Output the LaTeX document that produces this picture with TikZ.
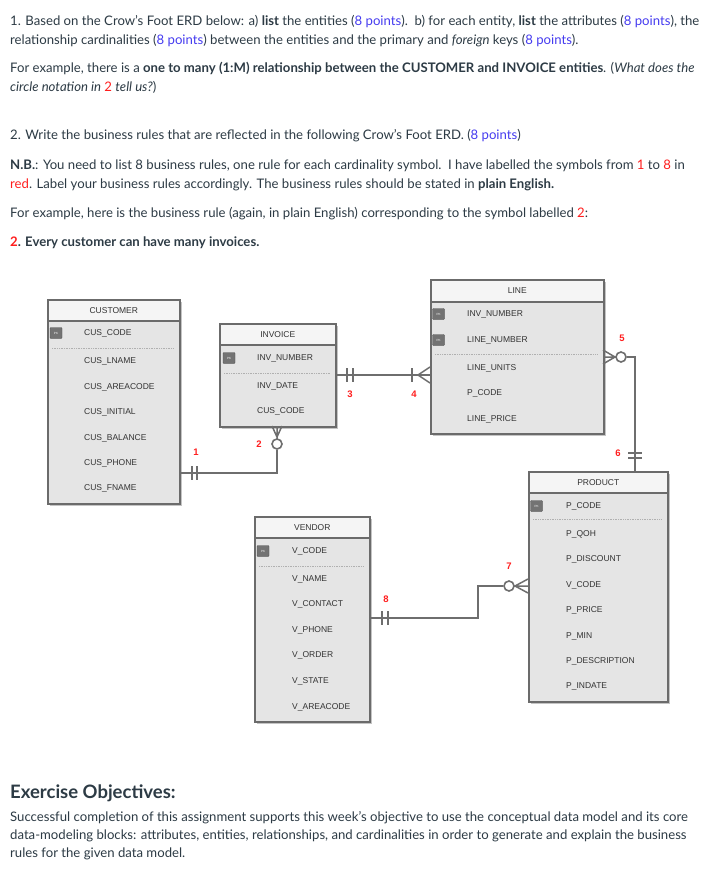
\documentclass[tikz,border=0pt]{standalone}
\usepackage{fontspec}
\setmainfont{Lato}
\newfontfamily\erdfont{Liberation Sans}
\definecolor{txt}{HTML}{2D3B45}
\definecolor{blu}{RGB}{70,60,240}
\definecolor{rd}{RGB}{255,30,30}
\definecolor{boxline}{HTML}{6B6B6B}
\definecolor{bodyfill}{HTML}{E5E5E5}
\definecolor{headfill}{HTML}{F5F5F5}
\definecolor{erdtext}{HTML}{333333}
\definecolor{connc}{HTML}{6E6E6E}
\definecolor{shadc}{HTML}{C4C4C4}
\definecolor{sepc}{HTML}{B0B0B0}
\newcommand\bl[1]{\textcolor{blu}{#1}}
\newcommand\rdt[1]{\textcolor{rd}{#1}}
\begin{document}
\begin{tikzpicture}[x=1pt,y=-1pt,
  para/.style={anchor=base west, inner sep=0, font=\fontsize{13.15}{16}\selectfont, text=txt},
  bodybox/.style={draw=boxline, line width=1.6, fill=bodyfill, anchor=north west, inner sep=0},
  headbox/.style={draw=boxline, line width=1.6, fill=headfill, anchor=north west, inner sep=0, minimum height=21, font=\erdfont\fontsize{8.5}{10}\selectfont, text=erdtext},
  attr/.style={anchor=west, inner sep=0, font=\erdfont\fontsize{8.5}{10}\selectfont, text=erdtext},
  pk/.style={draw=black!70, fill=black!55, minimum width=12, minimum height=11, inner sep=0, rounded corners=0.8, font=\erdfont\fontsize{3}{3}\selectfont, text=white},
  num/.style={text=rd, font=\erdfont\bfseries\fontsize{9.5}{10}\selectfont, inner sep=0},
  conn/.style={draw=connc, line width=1.8},
  sym/.style={draw=connc, line width=1.5},
  circ/.style={circle, draw=connc, line width=1.6, fill=white, minimum size=10, inner sep=0},
  sep/.style={draw=sepc, densely dotted, line width=0.7},
  shad/.style={fill=shadc}
]
\useasboundingbox (0,0) rectangle (705,869);
\fill[white] (0,0) rectangle (705,869);

% ---------- text ----------
\node[para] (t1) at (10,25.5) {1. Based on the Crow's Foot ERD below: a) \textbf{list} the entities (\bl{8 points}).\ \ b) for each entity, \textbf{list} the attributes (\bl{8 points}), the};
\node[para] (t2) at (10,44.5) {relationship cardinalities (\bl{8 points}) between the entities and the primary and \textit{foreign} keys (\bl{8 points}).};
\node[para] (t3) at (10,73) {For example, there is a \textbf{one to many (1:M) relationship between the CUSTOMER and INVOICE entities}. (\textit{What does the}};
\node[para] (t4) at (10,92) {\textit{circle notation in} \rdt{2} \textit{tell us?})};
\node[para] (t5) at (10,140) {2. Write the business rules that are reflected in the following Crow's Foot ERD. (\bl{8 points})};
\node[para] (t6) at (10,169) {\textbf{N.B.}: You need to list 8 business rules, one rule for each cardinality symbol.\ \ I have labelled the symbols from \rdt{1} to \rdt{8} in};
\node[para] (t7) at (10,188) {\rdt{red}. Label your business rules accordingly. The business rules should be stated in \textbf{plain English.}};
\node[para] (t8) at (10,217) {For example, here is the business rule (again, in plain English) corresponding to the symbol labelled \rdt{2}:};
\node[para] (t9) at (10,246) {\textbf{\rdt{2}. Every customer can have many invoices.}};
\node[para, font=\fontsize{18.5}{22}\selectfont\bfseries] (h1) at (10,798) {Exercise Objectives:};
\node[para] (b1) at (10,821) {Successful completion of this assignment supports this week's objective to use the conceptual data model and its core};
\node[para] (b2) at (10,839) {data-modeling blocks: attributes, entities, relationships, and cardinalities in order to generate and explain the business};
\node[para] (b3) at (10,857) {rules for the given data model.};

% ---------- shadows ----------
\fill[shad] (49.5,301.5) rectangle (181.5,505.5);
\fill[shad] (221.5,325.5) rectangle (337.5,428.5);
\fill[shad] (432.5,281.5) rectangle (605.5,435.5);
\fill[shad] (530.5,473.5) rectangle (669.5,703.5);
\fill[shad] (256.5,518.5) rectangle (371.5,723.5);

% ---------- CUSTOMER ----------
\node[bodybox, minimum width=132, minimum height=204] (cust) at (47,299) {};
\node[headbox, minimum width=132] (custh) at (47,299) {CUSTOMER};
\node[pk] (custpk) at (56,333) {PK};
\draw[sep] (52,348) -- (174,348);
\node[attr] (c1) at (84,333) {CUS\_CODE};
\node[attr] (c2) at (84,361) {CUS\_LNAME};
\node[attr] (c3) at (84,387) {CUS\_AREACODE};
\node[attr] (c4) at (84,412) {CUS\_INITIAL};
\node[attr] (c5) at (84,438) {CUS\_BALANCE};
\node[attr] (c6) at (84,463) {CUS\_PHONE};
\node[attr] (c7) at (84,488) {CUS\_FNAME};

% ---------- INVOICE ----------
\node[bodybox, minimum width=116, minimum height=103] (inv) at (219,323) {};
\node[headbox, minimum width=116] (invh) at (219,323) {INVOICE};
\node[pk] (invpk) at (229,358) {PK};
\draw[sep] (224,373) -- (330,373);
\node[attr] (i1) at (257,358) {INV\_NUMBER};
\node[attr] (i2) at (257,386) {INV\_DATE};
\node[attr] (i3) at (257,411) {CUS\_CODE};

% ---------- LINE ----------
\node[bodybox, minimum width=173, minimum height=154] (line) at (430,279) {};
\node[headbox, minimum width=173, minimum height=22] (lineh) at (430,279) {LINE};
\node[pk] (linepk1) at (438.5,314) {PK};
\node[pk] (linepk2) at (438.5,340) {PK};
\draw[sep] (435,354) -- (598,354);
\node[attr] (l1) at (467,314) {INV\_NUMBER};
\node[attr] (l2) at (467,340) {LINE\_NUMBER};
\node[attr] (l3) at (467,368) {LINE\_UNITS};
\node[attr] (l4) at (467,393) {P\_CODE};
\node[attr] (l5) at (467,419) {LINE\_PRICE};

% ---------- PRODUCT ----------
\node[bodybox, minimum width=139, minimum height=230] (prod) at (528,471) {};
\node[headbox, minimum width=139] (prodh) at (528,471) {PRODUCT};
\node[pk] (prodpk) at (536.5,506) {PK};
\draw[sep] (533,519) -- (662,519);
\node[attr] (p1) at (566,506) {P\_CODE};
\node[attr] (p2) at (566,534) {P\_QOH};
\node[attr] (p3) at (566,559) {P\_DISCOUNT};
\node[attr] (p4) at (566,585) {V\_CODE};
\node[attr] (p5) at (566,610) {P\_PRICE};
\node[attr] (p6) at (566,636) {P\_MIN};
\node[attr] (p7) at (566,661) {P\_DESCRIPTION};
\node[attr] (p8) at (566,686) {P\_INDATE};

% ---------- VENDOR ----------
\node[bodybox, minimum width=115, minimum height=205] (vend) at (254,516) {};
\node[headbox, minimum width=115] (vendh) at (254,516) {VENDOR};
\node[pk] (vendpk) at (263,551) {PK};
\draw[sep] (259,566) -- (364,566);
\node[attr] (v1) at (292,551) {V\_CODE};
\node[attr] (v2) at (292,579) {V\_NAME};
\node[attr] (v3) at (292,604) {V\_CONTACT};
\node[attr] (v4) at (292,630) {V\_PHONE};
\node[attr] (v5) at (292,655) {V\_ORDER};
\node[attr] (v6) at (292,681) {V\_STATE};
\node[attr] (v7) at (292,707) {V\_AREACODE};

% ---------- relationship CUSTOMER - INVOICE (1,2) ----------
\coordinate (k12) at (277,473);
\node[circ] (o2) at (277,444) {};
\draw[conn] (cust.east |- k12) -- (k12) -- (o2.south);
\draw[sym] (192,466) -- (192,480) (197,466) -- (197,480);
\draw[sym] (272,426) -- (277,437) -- (282,426) (277,426) -- (277,439);
\node[num] (n1) at (196,452) {1};
\node[num] (n2) at (259,444) {2};

% ---------- relationship INVOICE - LINE (3,4) ----------
\coordinate (k34) at (380,375);
\draw[conn] (inv.east |- k34) -- (line.west |- k34);
\draw[sym] (347,368) -- (347,382) (353,368) -- (353,382);
\draw[sym] (412,368) -- (412,382);
\draw[sym] (430,367) -- (418,375) -- (430,383);
\node[num] (n3) at (350,394) {3};
\node[num] (n4) at (414,394) {4};

% ---------- relationship LINE - PRODUCT (5,6) ----------
\coordinate (k5) at (635,357);
\node[circ] (o5) at (621,357) {};
\draw[conn] (o5.east) -- (k5) -- (k5 |- prodh.north);
\draw[sym] (603,350) -- (615,357) -- (603,364) (603,357) -- (616,357);
\draw[sym] (628,453) -- (642,453) (628,458) -- (642,458);
\node[num] (n5) at (622,338) {5};
\node[num] (n6) at (618,453) {6};

% ---------- relationship VENDOR - PRODUCT (7,8) ----------
\coordinate (k8a) at (478,618);
\coordinate (k8b) at (478,586);
\node[circ] (o7) at (509,586) {};
\draw[conn] (vend.east |- k8a) -- (k8a) -- (k8b) -- (o7.west);
\draw[sym] (528,579) -- (515,586) -- (528,593) (514,586) -- (528,586);
\draw[sym] (382,611) -- (382,625) (388,611) -- (388,625);
\node[num] (n7) at (509,566) {7};
\node[num] (n8) at (386,599) {8};
\end{tikzpicture}
\end{document}
